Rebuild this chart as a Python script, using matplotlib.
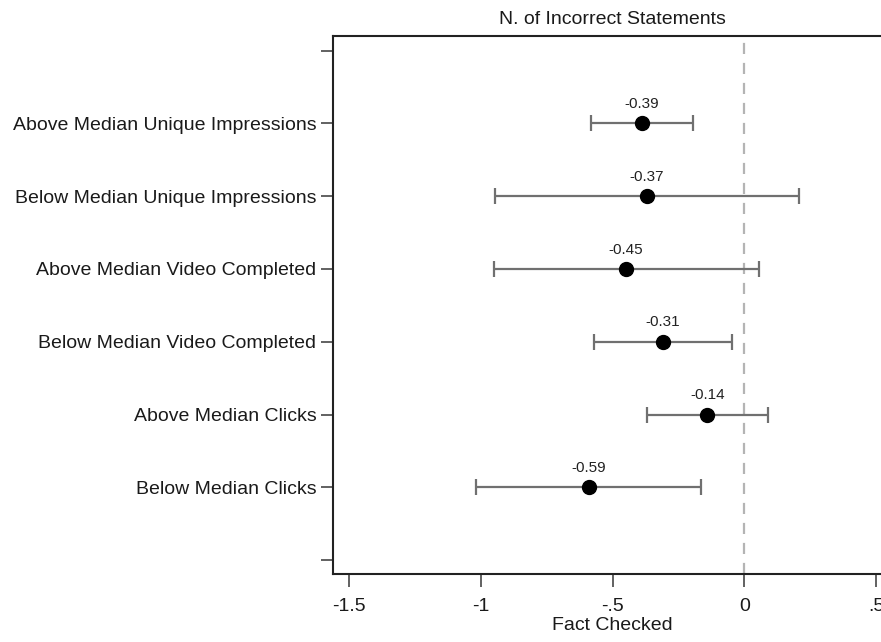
import matplotlib
matplotlib.use("Agg")
import matplotlib.pyplot as plt
import numpy as np

# Coefficient estimates (Fact Checked) on N. of Incorrect Statements
labels = ["Above Median Unique Impressions", "Below Median Unique Impressions",
          "Above Median Video Completed", "Below Median Video Completed",
          "Above Median Clicks", "Below Median Clicks"]
coef = [-0.39, -0.37, -0.45, -0.31, -0.14, -0.59]
ci_low = [-0.58, -0.947, -0.95, -0.572, -0.371, -1.019]
ci_high = [-0.193, 0.208, 0.057, -0.045, 0.091, -0.163]

plt.rcParams['font.family'] = ['Liberation Sans', 'DejaVu Sans']

W, H = 881, 642
fig = plt.figure(figsize=(W / 100, H / 100), dpi=100)
# axes box in pixels: left 333, top 36, bottom 574, right beyond the image edge
ax = fig.add_axes([333 / W, 1 - 574 / H, (892 - 333) / W, (574 - 36) / H])

ypos = np.arange(1, len(labels) + 1)
ax.axvline(0, color="#b4b4b4", lw=1.6, ls=(0, (5, 4)), zorder=1)
ax.errorbar(coef, ypos, xerr=[np.array(coef) - np.array(ci_low), np.array(ci_high) - np.array(coef)],
            fmt="none", ecolor="#707070", elinewidth=1.6, capsize=6, capthick=1.6, zorder=2)
ax.plot(coef, ypos, "o", color="black", ms=10, zorder=3)
for x, y in zip(coef, ypos):
    ax.text(x, y - 0.17, f"{x:.2f}", ha="center", va="bottom", fontsize=11, color="#222222")

ax.set_xlim(-1.56, 0.56)
ax.set_ylim(7.19, -0.2)
ax.set_xticks([-1.5, -1, -0.5, 0, 0.5])
ax.set_xticklabels(["-1.5", "-1", "-.5", "0", ".5"])
ax.set_yticks(np.arange(0, 8))
ax.set_yticklabels([""] + labels + [""])
ax.tick_params(axis="both", length=9, width=1.3, color="#555555", labelsize=14, labelcolor="#1a1a1a")
ax.tick_params(axis="y", pad=3)
ax.tick_params(axis="x", pad=8)
ax.set_xlabel("Fact Checked", fontsize=14, labelpad=2, color="#1a1a1a")
ax.set_title("N. of Incorrect Statements", fontsize=14, pad=9, color="#1a1a1a")
for s in ax.spines.values():
    s.set_linewidth(1.5)
    s.set_color("#222222")

fig.savefig("out.png", dpi=100)
